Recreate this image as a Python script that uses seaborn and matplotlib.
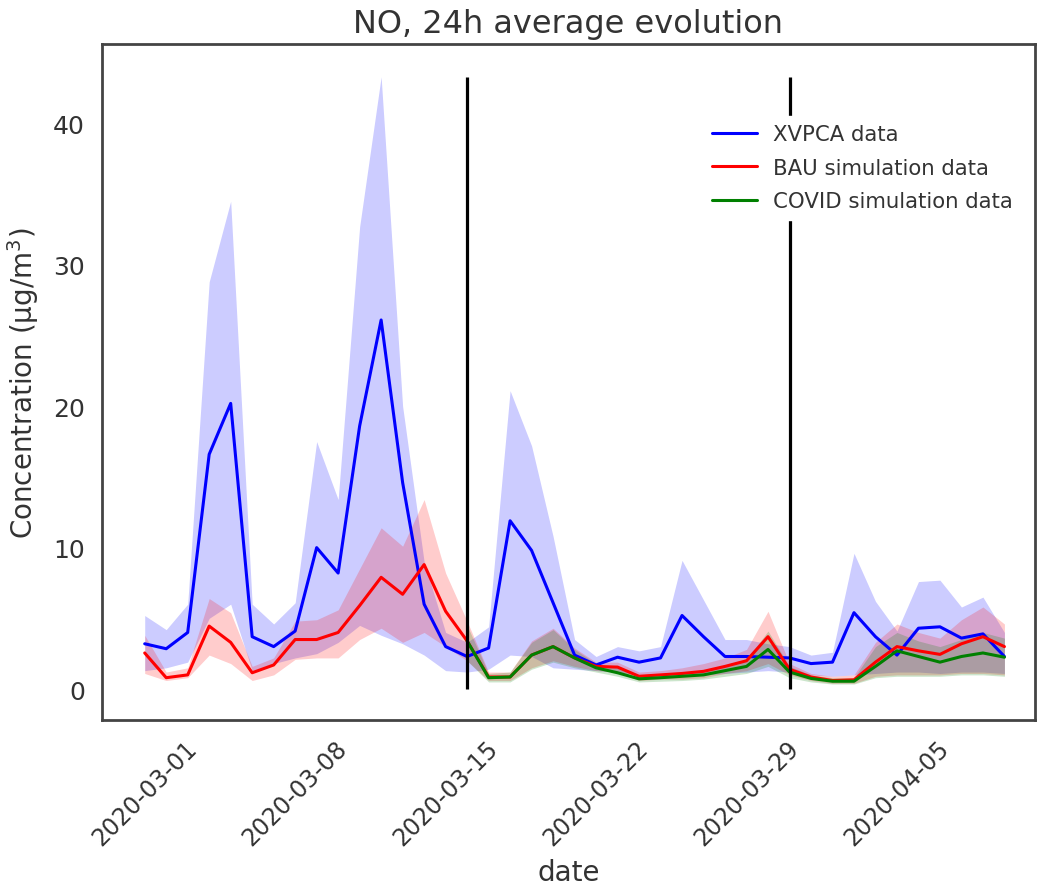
import numpy as np
import pandas as pd
import matplotlib
matplotlib.use("Agg")
import matplotlib.pyplot as plt
import matplotlib.dates as mdates
import seaborn as sns

# Daily NO concentrations (µg/m3), 2020-03-01 .. 2020-04-10
dates = pd.date_range("2020-03-01", "2020-04-10", freq="D")

xvpca_mean = [3.2, 2.85, 4.0, 16.6, 20.2, 3.7, 3.0, 4.1, 10.0, 8.2,
              18.6, 26.1, 14.6, 6.0, 3.0, 2.3, 2.9, 11.9, 9.8, 6.1,
              2.4, 1.7, 2.25, 1.9, 2.2, 5.2, 3.7, 2.3, 2.3, 2.25,
              2.2, 1.8, 1.9, 5.4, 3.7, 2.4, 4.3, 4.4, 3.6, 3.9, 2.3]
xvpca_low = [1.3, 1.5, 1.9, 5.0, 6.0, 1.3, 1.8, 2.2, 2.5, 3.3,
             4.5, 3.8, 3.2, 2.4, 1.3, 1.2, 1.4, 2.4, 2.3, 1.5,
             1.4, 1.3, 1.2, 1.0, 1.0, 1.0, 1.0, 1.1, 1.2, 1.3,
             1.2, 1.0, 0.9, 1.0, 1.1, 1.2, 1.2, 1.1, 1.2, 1.2, 1.1]
xvpca_high = [5.2, 4.2, 6.0, 28.8, 34.5, 6.0, 4.6, 6.1, 17.5, 13.4,
              32.7, 43.3, 20.0, 9.0, 4.0, 3.3, 4.4, 21.1, 17.2, 10.8,
              3.5, 2.3, 3.0, 2.7, 3.0, 9.1, 6.3, 3.5, 3.5, 3.2,
              3.0, 2.4, 2.6, 9.6, 6.2, 4.1, 7.6, 7.7, 5.8, 6.5, 4.0]

bau_mean = [2.55, 0.8, 1.0, 4.45, 3.3, 1.15, 1.7, 3.5, 3.5, 4.0,
            5.9, 7.9, 6.7, 8.8, 5.5, 3.4, 0.85, 0.85, 2.4, 3.0,
            2.2, 1.6, 1.55, 0.9, 1.0, 1.1, 1.25, 1.6, 2.0, 3.7,
            1.4, 0.85, 0.6, 0.65, 1.9, 3.0, 2.7, 2.45, 3.2, 3.7, 3.0]
bau_low = [1.1, 0.6, 0.8, 2.4, 1.8, 0.6, 1.0, 2.1, 2.2, 2.2,
           3.5, 4.3, 3.3, 4.0, 3.0, 2.0, 0.6, 0.6, 1.5, 2.0,
           1.6, 1.3, 1.2, 0.6, 0.7, 0.7, 0.8, 1.1, 1.3, 1.8,
           1.0, 0.6, 0.4, 0.4, 0.9, 1.0, 1.0, 1.0, 1.1, 1.1, 1.0]
bau_high = [3.8, 1.2, 1.5, 6.4, 5.4, 1.6, 2.2, 4.8, 4.9, 5.6,
            8.5, 11.4, 10.1, 13.4, 8.2, 4.8, 1.2, 1.2, 3.4, 4.3,
            2.9, 1.9, 1.9, 1.2, 1.3, 1.5, 1.8, 2.2, 2.8, 5.5,
            1.8, 1.1, 0.9, 1.0, 3.3, 4.6, 4.0, 3.6, 4.9, 5.8, 4.6]

# Lockdown scenario starts on 2020-03-16 (index 15)
covid_start = 15
covid_mean = [3.4, 0.8, 0.85, 2.4, 3.0, 2.2, 1.5, 1.15, 0.72, 0.8,
              0.9, 1.0, 1.3, 1.6, 2.8, 1.2, 0.75, 0.55, 0.55, 1.6,
              2.7, 2.3, 1.9, 2.3, 2.55, 2.25]
covid_low = [2.0, 0.5, 0.5, 1.4, 1.9, 1.5, 1.2, 0.9, 0.5, 0.55,
             0.6, 0.7, 0.9, 1.1, 1.6, 0.8, 0.5, 0.35, 0.35, 0.8,
             0.9, 0.9, 0.9, 1.0, 1.0, 0.9]
covid_high = [4.5, 1.1, 1.2, 3.3, 4.2, 2.8, 1.8, 1.5, 1.0, 1.1,
              1.2, 1.3, 1.7, 2.1, 4.1, 1.6, 1.0, 0.8, 0.8, 3.0,
              4.0, 3.4, 3.0, 3.5, 4.0, 3.6]

lockdown_dates = pd.to_datetime(["2020-03-16", "2020-03-31"])
tick_dates = pd.to_datetime(["2020-03-01", "2020-03-08", "2020-03-15",
                             "2020-03-22", "2020-03-29", "2020-04-05"])
x_range = pd.to_datetime(["2020-02-28 00:00", "2020-04-11 10:00"])

covid_dates = dates[covid_start:]

df = pd.concat([
    pd.DataFrame({"date": dates, "value": xvpca_mean, "source": "XVPCA data"}),
    pd.DataFrame({"date": dates, "value": bau_mean, "source": "BAU simulation data"}),
    pd.DataFrame({"date": covid_dates, "value": covid_mean, "source": "COVID simulation data"}),
], ignore_index=True)

sns.set_theme(style="white")
plt.rcParams["font.family"] = ["DejaVu Sans"]

fig = plt.figure(figsize=(10.38, 8.87), dpi=100)
ax = fig.add_axes([0.098, 0.187, 0.899, 0.762])

palette = {"XVPCA data": "blue", "BAU simulation data": "red",
           "COVID simulation data": "green"}

ax.fill_between(dates, xvpca_low, xvpca_high, color="blue", alpha=0.2, linewidth=0)
ax.fill_between(dates, bau_low, bau_high, color="red", alpha=0.2, linewidth=0)
ax.fill_between(covid_dates, covid_low, covid_high, color="green", alpha=0.2, linewidth=0)

sns.lineplot(data=df, x="date", y="value", hue="source", palette=palette,
             linewidth=2.2, ax=ax)

ymax = max(max(xvpca_high), max(bau_high), max(covid_high))
ax.vlines(lockdown_dates, 0, ymax, color="black", linewidth=2.3)

ax.set_xlim(x_range[0], x_range[1])
ax.set_ylim(-2.2, 45.6)
ax.set_xticks(tick_dates)
ax.xaxis.set_major_formatter(mdates.DateFormatter("%Y-%m-%d"))
plt.setp(ax.get_xticklabels(), rotation=45, ha="center")
ax.tick_params(axis="x", labelsize=17, colors="#333333", pad=5)
ax.tick_params(axis="y", labelsize=18, colors="#333333", pad=6)

ax.set_title("NO, 24h average evolution", fontsize=23, color="#333333", pad=9)
ax.set_xlabel("date", fontsize=20, color="#333333", labelpad=6)
ax.set_ylabel("Concentration (μg/m$^3$)", fontsize=20, color="#333333", labelpad=9)

for s in ax.spines.values():
    s.set_color("#444444")
    s.set_linewidth(2)

# Opaque white legend box (hides the vertical marker behind it)
leg = ax.legend(loc="upper right", bbox_to_anchor=(0.997, 0.91), frameon=True,
                facecolor="white", edgecolor="white", framealpha=1.0,
                fancybox=False, fontsize=15.3, handlelength=2.15,
                handletextpad=0.75, labelspacing=0.64)
for t in leg.get_texts():
    t.set_color("#333333")

fig.savefig("out.png", dpi=100)
